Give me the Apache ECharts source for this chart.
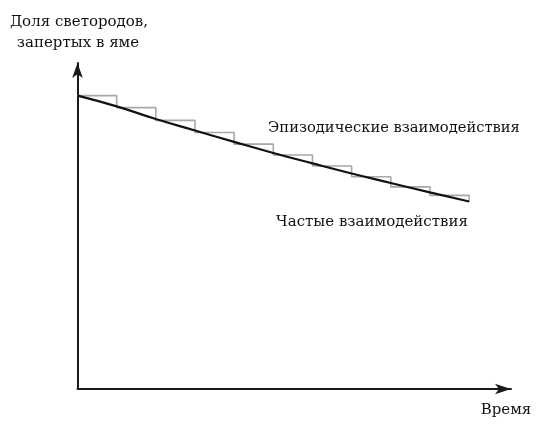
<!DOCTYPE html>
<html>
<head>
<meta charset="utf-8">
<script src="https://cdn.jsdelivr.net/npm/echarts@6/dist/echarts.min.js"></script>
<style>
html,body{margin:0;padding:0;background:#fff;}
#chart{width:553px;height:428px;}
</style>
</head>
<body>
<div id="chart"></div>
<script>
// Time steps (arbitrary units)
var times = [0, 1, 2, 3, 4, 5, 6, 7, 8, 9, 10];
// Frequent interactions: smooth decay of trapped fraction
var frequentValues = [90.0, 86.7, 82.8, 79.3, 75.8, 72.4, 69.2, 66.1, 63.2, 60.3, 57.5];
// Episodic interactions: step levels
var episodicValues = [90.0, 86.3, 82.4, 78.7, 75.1, 71.8, 68.4, 65.1, 62.0, 59.4, 57.4];
var yAxisTitle = ['Доля светородов,', 'запертых в яме'];
var xAxisTitle = 'Время';
var episodicLabel = 'Эпизодические взаимодействия';
var frequentLabel = 'Частые взаимодействия';

var chart = echarts.init(document.getElementById('chart'));
var font = '"DejaVu Serif", serif';
function pairs(xs, ys){ return xs.map(function(x,i){ return [x, ys[i]]; }); }

chart.setOption({
  animation: false,
  backgroundColor: '#fff',
  grid: { left: 77.5, right: 42, top: 63, bottom: 39, containLabel: false },
  xAxis: {
    type: 'value', min: 0, max: 11.07,
    axisLine: { show: true, onZero: false, lineStyle: { color: '#1a1a1a', width: 2 },
      symbol: ['none', 'arrow'], symbolSize: [8, 16] },
    axisTick: { show: false }, axisLabel: { show: false }, splitLine: { show: false }
  },
  yAxis: {
    type: 'value', min: 0, max: 100,
    axisLine: { show: true, onZero: false, lineStyle: { color: '#1a1a1a', width: 2 },
      symbol: ['none', 'arrow'], symbolSize: [8, 15] },
    axisTick: { show: false }, axisLabel: { show: false }, splitLine: { show: false }
  },
  series: [
    {
      name: episodicLabel, type: 'line', step: 'end',
      data: pairs(times, episodicValues),
      showSymbol: false, symbol: 'none',
      lineStyle: { color: '#a8a8a8', width: 1.6 },
      z: 2
    },
    {
      name: frequentLabel, type: 'line',
      data: pairs(times, frequentValues),
      showSymbol: false, symbol: 'none', smooth: true,
      lineStyle: { color: '#111', width: 2.2 },
      z: 3
    }
  ],
  graphic: [
    { type: 'text', style: { x: 79, y: 22, text: yAxisTitle[0], font: '15px ' + font, fill: '#111', textAlign: 'center', textVerticalAlign: 'middle' } },
    { type: 'text', style: { x: 78, y: 43, text: yAxisTitle[1], font: '15px ' + font, fill: '#111', textAlign: 'center', textVerticalAlign: 'middle' } },
    { type: 'text', style: { x: 394, y: 128, text: episodicLabel, font: '14.7px ' + font, fill: '#111', textAlign: 'center', textVerticalAlign: 'middle' } },
    { type: 'text', style: { x: 372, y: 222, text: frequentLabel, font: '15px ' + font, fill: '#111', textAlign: 'center', textVerticalAlign: 'middle' } },
    { type: 'text', style: { x: 506, y: 410, text: xAxisTitle, font: '15px ' + font, fill: '#111', textAlign: 'center', textVerticalAlign: 'middle' } }
  ]
});
</script>
</body>
</html>
